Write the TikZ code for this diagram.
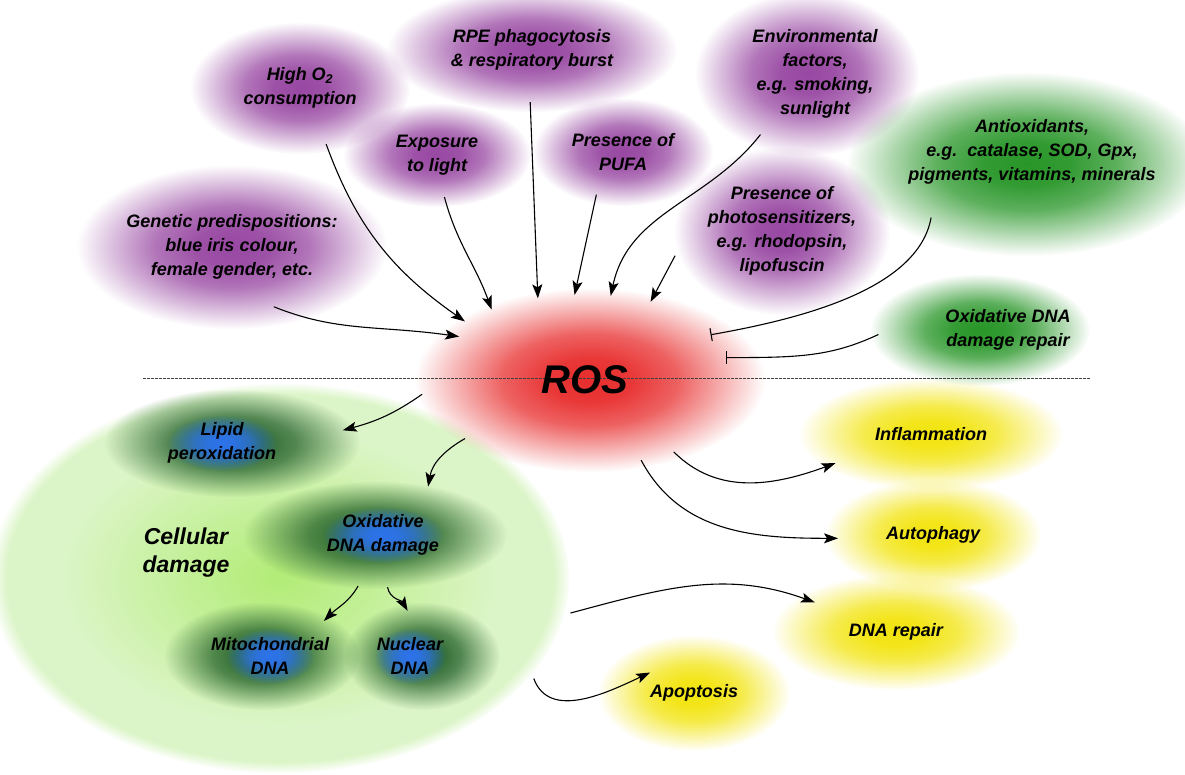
\documentclass[tikz,border=0pt]{standalone}
\usepackage{fontspec}
\setmainfont{Liberation Sans}
\usetikzlibrary{shapes.geometric,arrows.meta,fadings}
\definecolor{rosRed}{RGB}{232,45,45}
\definecolor{srcPurple}{RGB}{152,72,162}
\definecolor{protGreen}{RGB}{40,150,40}
\definecolor{outYellow}{RGB}{242,228,15}
\definecolor{ringGreen}{RGB}{40,100,45}
\definecolor{coreBlue}{RGB}{45,115,235}
\definecolor{cellIn}{RGB}{178,236,118}
\definecolor{cellOut}{RGB}{220,245,200}
\pgfdeclareradialshading{glowshade}{\pgfpointorigin}{color(0bp)=(white); color(6bp)=(white!95!black); color(12.5bp)=(white!75!black); color(18.75bp)=(white!38!black); color(25bp)=(black); color(50bp)=(black)}
\pgfdeclarefading{glow}{\pgfuseshading{glowshade}}
\pgfdeclareradialshading{rimshade}{\pgfpointorigin}{color(0bp)=(white); color(23.5bp)=(white); color(25bp)=(black); color(50bp)=(black)}
\pgfdeclarefading{rim}{\pgfuseshading{rimshade}}
\pgfdeclareradialshading{cellshade}{\pgfpointorigin}{color(0bp)=(cellIn); color(8bp)=(cellIn!60!cellOut); color(19bp)=(cellOut); color(50bp)=(cellOut)}
\pgfdeclarelayer{background}
\pgfsetlayers{background,main}

\begin{document}
\begin{tikzpicture}[x=1pt, y=-1pt, glow fill/.style={fill=#1, path fading=glow, fit fading=true}]
  \tikzstyle{lbl} = [ellipse, inner sep=0pt, align=center, font=\fontsize{18}{24}\selectfont\bfseries\itshape]
  \tikzstyle{arrow} = [-{Stealth[length=14pt,width=10pt,inset=3pt]}, line width=1.1pt]
  \tikzstyle{block} = [-{Bar[width=13pt]}, line width=1.1pt]
  \useasboundingbox (0,0) rectangle (1185,775);

  % Sources of ROS
  \node[lbl, minimum width=190pt, minimum height=116pt] (o2) at (300,88) {High O\textsubscript{2}\\consumption};
  \node[lbl, minimum width=260pt, minimum height=104pt] (rpe) at (532,50) {RPE phagocytosis\\\& respiratory burst};
  \node[lbl, minimum width=200pt, minimum height=144pt] (env) at (815,74) {Environmental\\factors,\\e.g. smoking,\\sunlight};
  \node[lbl, minimum width=164pt, minimum height=84pt] (light) at (437,155) {Exposure\\to light};
  \node[lbl, minimum width=160pt, minimum height=90pt] (pufa) at (623,152) {Presence of\\PUFA};
  \node[lbl, minimum width=226pt, minimum height=150pt] (photo) at (782,231) {Presence of\\photosensitizers,\\e.g. rhodopsin,\\lipofuscin};
  \node[lbl, minimum width=300pt, minimum height=124pt] (genetic) at (232,247) {Genetic predispositions:\\blue iris colour,\\female gender, etc.};

  % Protection
  \node[lbl, minimum height=160pt] (antiox) at (1032,152) {Antioxidants,\\e.g.\ \ catalase, SOD, Gpx,\\pigments, vitamins, minerals};
  \node[lbl, minimum width=260pt, minimum height=96pt] (repair) at (1008,330) {Oxidative DNA\\damage repair};

  % ROS
  \node[lbl, font=\fontsize{40}{44}\selectfont\bfseries\itshape, minimum width=330pt, minimum height=170pt] (ros) at (585,380) {ROS};

  % Cellular damage
  \node[ellipse, minimum width=580pt, minimum height=390pt] (cell) at (285,578) {};
  \node[lbl, font=\fontsize{23}{28}\selectfont\bfseries\itshape] (celltxt) at (186,553) {Cellular\\damage};
  \node[lbl, minimum width=250pt, minimum height=96pt] (lipid) at (222,443) {Lipid\\peroxidation};
  \node[lbl, minimum width=240pt, minimum height=104pt] (oxdna) at (383,535) {Oxidative\\DNA damage};
  \node[lbl, minimum width=170pt, minimum height=90pt] (mito) at (270,656) {Mitochondrial\\DNA};
  \node[lbl, minimum width=140pt, minimum height=90pt] (nuc) at (410,656) {Nuclear\\DNA};

  % Consequences
  \node[lbl, minimum width=240pt, minimum height=96pt] (infl) at (931,434) {Inflammation};
  \node[lbl, minimum width=190pt, minimum height=96pt] (autoph) at (933,535) {Autophagy};
  \node[lbl, minimum width=200pt, minimum height=100pt] (dnarep) at (896,632) {DNA repair};
  \node[lbl, minimum width=150pt, minimum height=50pt] (apop) at (694,693) {Apoptosis};

  \coordinate (divL) at (143,378);
  \coordinate (divR) at (1090,378);

  % soft blobs behind the labels
  \begin{pgfonlayer}{background}
    \shade[shading=cellshade, path fading=rim, fit fading=true] ([xshift=-5pt]cell.center) ellipse [x radius=290pt, y radius=195pt];
    \fill[glow fill=ringGreen] ([xshift=10pt]lipid.center) ellipse [x radius=128pt, y radius=54pt];
    \fill[glow fill=ringGreen] ([xshift=-8pt]oxdna.center) ellipse [x radius=132pt, y radius=54pt];
    \fill[glow fill=ringGreen] ([xshift=-8pt]mito.center) ellipse [x radius=98pt, y radius=54pt];
    \fill[glow fill=ringGreen] ([xshift=12pt]nuc.center) ellipse [x radius=78pt, y radius=54pt];
    \fill[glow fill=coreBlue] (lipid.center) ellipse [x radius=55pt, y radius=28pt];
    \fill[glow fill=coreBlue] (oxdna.center) ellipse [x radius=60pt, y radius=28pt];
    \fill[glow fill=coreBlue] (mito.center) ellipse [x radius=44pt, y radius=28pt];
    \fill[glow fill=coreBlue] (nuc.center) ellipse [x radius=36pt, y radius=28pt];

    \fill[glow fill=srcPurple] (o2.center) ellipse [x radius=110pt, y radius=66pt];
    \fill[glow fill=srcPurple] (rpe.center) ellipse [x radius=145pt, y radius=62pt];
    \fill[glow fill=srcPurple] ([xshift=-8pt]env.center) ellipse [x radius=112pt, y radius=82pt];
    \fill[glow fill=srcPurple] (light.center) ellipse [x radius=94pt, y radius=52pt];
    \fill[glow fill=srcPurple] (pufa.center) ellipse [x radius=90pt, y radius=54pt];
    \fill[glow fill=srcPurple] (photo.center) ellipse [x radius=108pt, y radius=84pt];
    \fill[glow fill=srcPurple] (genetic.center) ellipse [x radius=155pt, y radius=82pt];

    \fill[glow fill=protGreen] ([shift={(-5,12)}]antiox.center) ellipse [x radius=180pt, y radius=92pt];
    \fill[glow fill=protGreen] ([xshift=-28pt]repair.center) ellipse [x radius=110pt, y radius=56pt];

    \fill[glow fill=outYellow] (infl.center) ellipse [x radius=132pt, y radius=56pt];
    \fill[glow fill=outYellow] (autoph.center) ellipse [x radius=108pt, y radius=56pt];
    \fill[glow fill=outYellow] (dnarep.center) ellipse [x radius=124pt, y radius=58pt];
    \fill[glow fill=outYellow] (apop.center) ellipse [x radius=96pt, y radius=58pt];

    \fill[glow fill=rosRed] ([xshift=5pt]ros.center) ellipse [x radius=175pt, y radius=92pt];
    \draw[dash pattern=on 2.5pt off 1.5pt, line width=0.9pt, black!75] (divL) -- (divR);
  \end{pgfonlayer}

  % into ROS
  \draw[arrow] (o2.-65) to[out=-70, in=145] (ros.154);
  \draw[arrow] (light.-80) to[out=-75, in=110] (ros.143);
  \draw[arrow] (rpe.-92) -- (ros.120);
  \draw[arrow] (pufa.-122) -- (ros.97);
  \draw[arrow] (env.-132) to[out=-128, in=78] (ros.73);
  \draw[arrow] (photo.-167) -- (ros.50);
  \draw[arrow, shorten >=-14pt] (genetic.-55) to[out=-22, in=172] (ros.162);
  \draw[block, shorten >=-12pt] (antiox.-147) to[out=-100, in=10, looseness=0.8] (ros.19);
  \draw[block, shorten >=-18pt] (repair.-178) to[out=205, in=0] (ros.8);

  % out of ROS
  \draw[arrow] (ros.185) to[out=215, in=15] (lipid.6);
  \draw[arrow] (ros.206) to[out=210, in=80] (oxdna.47);
  \draw[arrow] (oxdna.-116) to[out=-120, in=45] (mito.33);
  \draw[arrow] (oxdna.-85) to[out=-80, in=120] (nuc.93);
  \draw[arrow] (ros.-39) to[out=-45, in=200] (infl.197);
  \draw[arrow] (ros.-55) to[out=-62, in=180] (autoph.182);
  \draw[arrow] (cell.-7) to[out=15, in=160] (dnarep.160);
  \draw[arrow] (cell.-22) to[out=-70, in=205] (apop.155);
\end{tikzpicture}
\end{document}
